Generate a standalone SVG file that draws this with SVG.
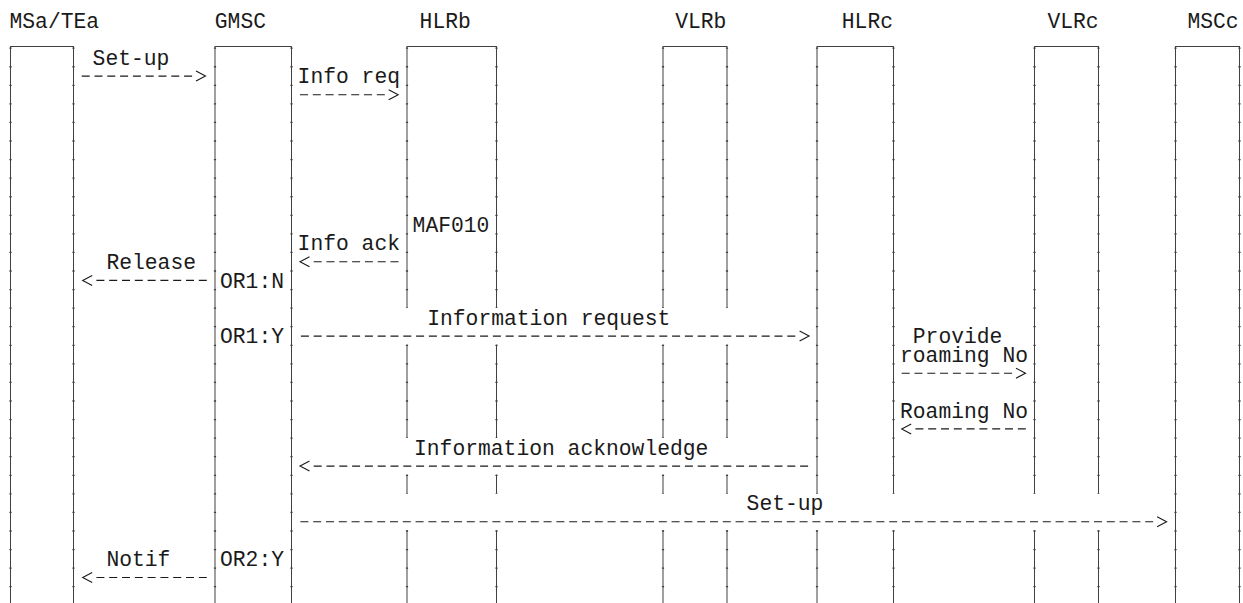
<svg xmlns="http://www.w3.org/2000/svg" width="1243" height="603" viewBox="0 0 1243 603">
<defs>
<style>
text{font-family:"Liberation Mono","Courier New",monospace;font-size:21.33px;fill:#1a1a1a}
.ll{stroke:#404040;stroke-width:1;fill:none}
.tk{stroke:#404040;stroke-width:2.2;stroke-dasharray:1.3 17.27;fill:none}
.t0{stroke-dashoffset:17.05}
.t1{stroke-dashoffset:18.53}
.dl{stroke:#1a1a1a;stroke-width:1.1;stroke-dasharray:8 4.8;fill:none}
.ah{stroke:#1a1a1a;stroke-width:1.1;fill:none;stroke-linejoin:miter}
</style>
</defs>
<rect width="1243" height="603" fill="#fff"/>

<g id="node-msa">
<text x="9.5" y="27.5">MSa/TEa</text>
<path class="ll" d="M10.5 46.5H73.5M10.5 46V603M73.5 46V603"/>
<line class="tk t0" x1="10.5" y1="46" x2="10.5" y2="603"/>
<line class="tk t0" x1="73.5" y1="46" x2="73.5" y2="603"/>
</g>

<g id="node-gmsc">
<text x="214.8" y="27.5">GMSC</text>
<path class="ll" d="M215 46.5H291.5M215 46V603M291.5 46V603"/>
<line class="tk t0" x1="215" y1="46" x2="215" y2="603"/>
<line class="tk t0" x1="291.5" y1="46" x2="291.5" y2="603"/>
<text x="220" y="287.5">OR1:N</text>
<text x="220" y="343.2">OR1:Y</text>
<text x="220" y="566">OR2:Y</text>
</g>

<g id="node-hlrb">
<text x="419.6" y="27.5">HLRb</text>
<path class="ll" d="M407 46.5H496.5M407 46V308M407 344.6V438M407 474.6V493.7M407 530.3V603M496.5 46V308M496.5 344.6V438M496.5 474.6V493.7M496.5 530.3V603"/>
<line class="tk t0" x1="407" y1="46" x2="407" y2="308"/>
<line class="tk t1" x1="407" y1="344.6" x2="407" y2="438"/>
<line class="tk t1" x1="407" y1="474.6" x2="407" y2="493.7"/>
<line class="tk t1" x1="407" y1="530.3" x2="407" y2="603"/>
<line class="tk t0" x1="496.5" y1="46" x2="496.5" y2="308"/>
<line class="tk t1" x1="496.5" y1="344.6" x2="496.5" y2="438"/>
<line class="tk t1" x1="496.5" y1="474.6" x2="496.5" y2="493.7"/>
<line class="tk t1" x1="496.5" y1="530.3" x2="496.5" y2="603"/>
<text x="412.6" y="231.8">MAF010</text>
</g>

<g id="node-vlrb">
<text x="675.2" y="27.5">VLRb</text>
<path class="ll" d="M663 46.5H727M663 46V308M663 344.6V438M663 474.6V493.7M663 530.3V603M727 46V308M727 344.6V438M727 474.6V493.7M727 530.3V603"/>
<line class="tk t0" x1="663" y1="46" x2="663" y2="308"/>
<line class="tk t1" x1="663" y1="344.6" x2="663" y2="438"/>
<line class="tk t1" x1="663" y1="474.6" x2="663" y2="493.7"/>
<line class="tk t1" x1="663" y1="530.3" x2="663" y2="603"/>
<line class="tk t0" x1="727" y1="46" x2="727" y2="308"/>
<line class="tk t1" x1="727" y1="344.6" x2="727" y2="438"/>
<line class="tk t1" x1="727" y1="474.6" x2="727" y2="493.7"/>
<line class="tk t1" x1="727" y1="530.3" x2="727" y2="603"/>
</g>

<g id="node-hlrc">
<text x="841.8" y="27.5">HLRc</text>
<path class="ll" d="M817 46.5H893.5M817 46V493.7M817 530.3V603M893.5 46V493.7M893.5 530.3V603"/>
<line class="tk t0" x1="817" y1="46" x2="817" y2="493.7"/>
<line class="tk t1" x1="817" y1="530.3" x2="817" y2="603"/>
<line class="tk t0" x1="893.5" y1="46" x2="893.5" y2="493.7"/>
<line class="tk t1" x1="893.5" y1="530.3" x2="893.5" y2="603"/>
</g>

<g id="node-vlrc">
<text x="1047.4" y="27.5">VLRc</text>
<path class="ll" d="M1034.5 46.5H1098.5M1034.5 46V493.7M1034.5 530.3V603M1098.5 46V493.7M1098.5 530.3V603"/>
<line class="tk t0" x1="1034.5" y1="46" x2="1034.5" y2="493.7"/>
<line class="tk t1" x1="1034.5" y1="530.3" x2="1034.5" y2="603"/>
<line class="tk t0" x1="1098.5" y1="46" x2="1098.5" y2="493.7"/>
<line class="tk t1" x1="1098.5" y1="530.3" x2="1098.5" y2="603"/>
</g>

<g id="node-mscc">
<text x="1187.4" y="27.5">MSCc</text>
<path class="ll" d="M1175.5 46.5H1239.5M1175.5 46V603M1239.5 46V603"/>
<line class="tk t0" x1="1175.5" y1="46" x2="1175.5" y2="603"/>
<line class="tk t0" x1="1239.5" y1="46" x2="1239.5" y2="603"/>
</g>

<g id="connectors">
<text x="92.6" y="64.6">Set-up</text>
<line class="dl" x1="81.7" y1="76.1" x2="192.1" y2="76.1"/>
<polyline class="ah" points="196,71.1 205.5,76.1 196,81.1"/>

<text x="297.6" y="83.2">Info req</text>
<line class="dl" x1="300" y1="94.7" x2="384.8" y2="94.7"/>
<polyline class="ah" points="388.7,89.7 398.2,94.7 388.7,99.7"/>

<text x="297.6" y="250.3">Info ack</text>
<polyline class="ah" points="309.5,256.8 300,261.8 309.5,266.8"/>
<line class="dl" x1="313.7" y1="261.8" x2="398.5" y2="261.8"/>

<text x="106.4" y="268.9">Release</text>
<polyline class="ah" points="92.2,275.4 82.7,280.4 92.2,285.4"/>
<line class="dl" x1="96.4" y1="280.4" x2="206.8" y2="280.4"/>

<text x="427.2" y="324.6">Information request</text>
<line class="dl" x1="300.9" y1="336.1" x2="795.7" y2="336.1"/>
<polyline class="ah" points="799.6,331.1 809.1,336.1 799.6,341.1"/>

<text x="912.8" y="343.2">Provide</text>
<text x="900" y="361.8">roaming No</text>
<line class="dl" x1="901.7" y1="373.2" x2="1012.1" y2="373.2"/>
<polyline class="ah" points="1016,368.2 1025.5,373.2 1016,378.2"/>

<text x="900" y="417.5">Roaming No</text>
<polyline class="ah" points="911.2,423.9 901.7,428.9 911.2,433.9"/>
<line class="dl" x1="915.4" y1="428.9" x2="1025.8" y2="428.9"/>

<text x="414" y="454.6">Information acknowledge</text>
<polyline class="ah" points="309.5,461.1 300,466.1 309.5,471.1"/>
<line class="dl" x1="313.7" y1="466.1" x2="808.1" y2="466.1"/>

<text x="746.6" y="510.3">Set-up</text>
<line class="dl" x1="300.4" y1="521.8" x2="1153.2" y2="521.8"/>
<polyline class="ah" points="1157.1,516.8 1166.6,521.8 1157.1,526.8"/>

<text x="106.4" y="566">Notif</text>
<polyline class="ah" points="92.2,572.5 82.7,577.5 92.2,582.5"/>
<line class="dl" x1="96.4" y1="577.5" x2="206.8" y2="577.5"/>
</g>
</svg>
